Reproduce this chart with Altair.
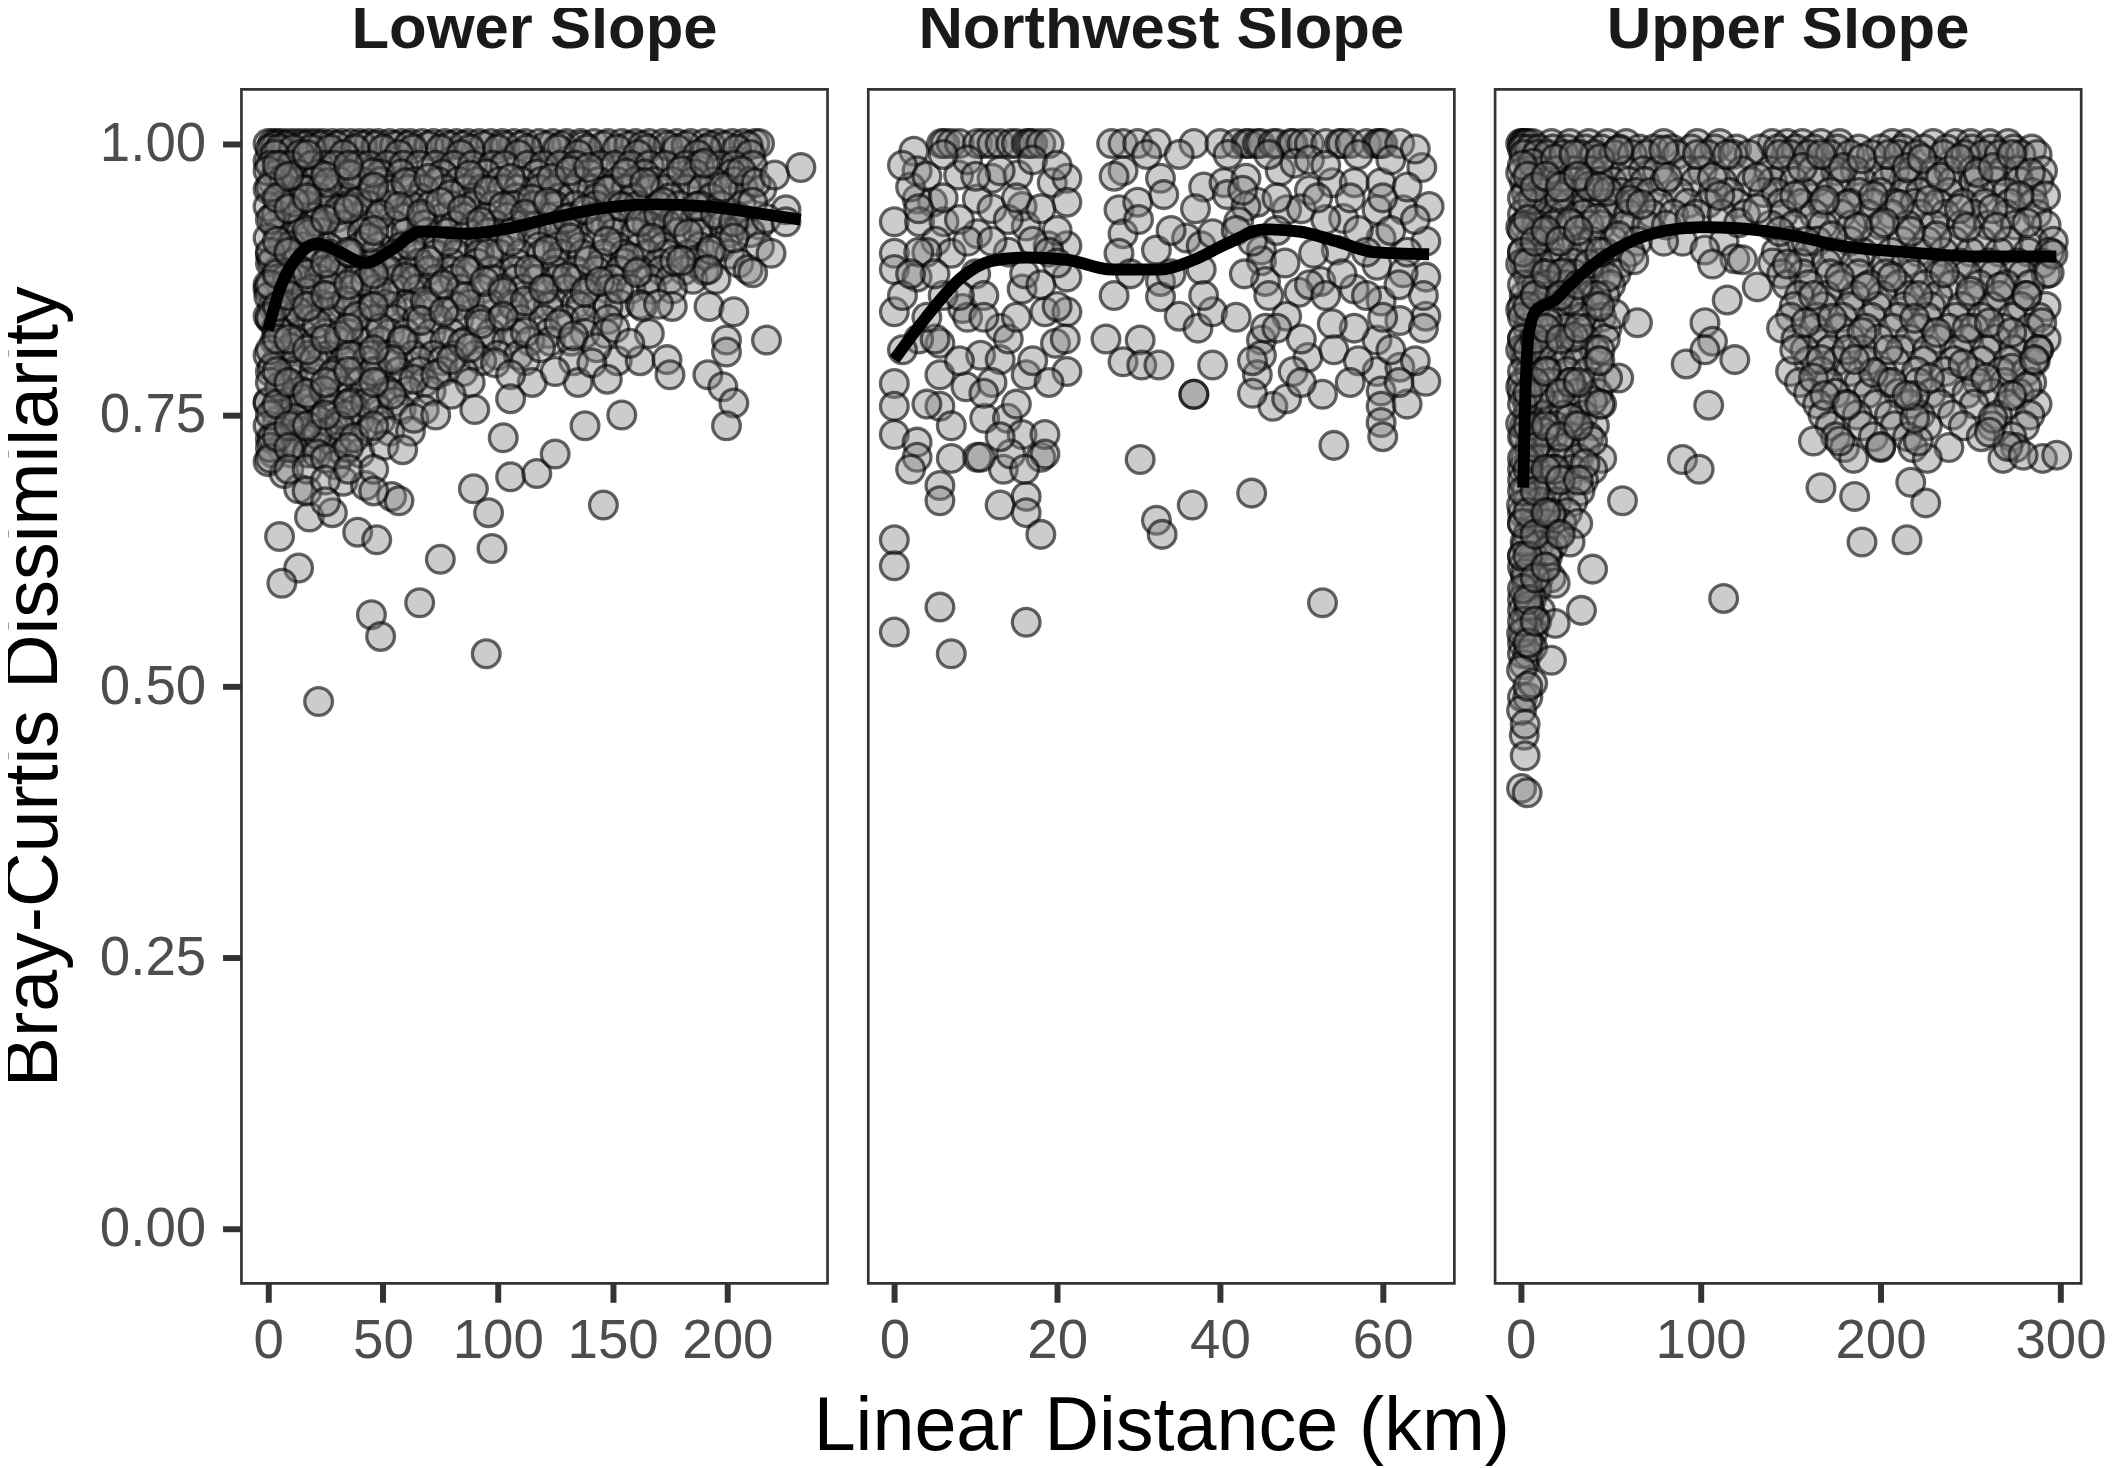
import altair as alt
import pandas as pd

FONT = "Liberation Sans"

# ---------------- Lower Slope ----------------
lower_top_km = [0, 2, 4, 6, 9, 12, 15, 18, 21, 24, 28, 32, 36, 40, 44, 48, 53, 58, 62, 67, 72, 77, 82,
                87, 92, 97, 102, 107, 112, 118, 124, 130, 136, 142, 148, 154, 160, 166, 172, 178, 184,
                190, 196, 202, 207, 212, 214]
lower_row2_km = [0, 8, 18, 30, 42, 55, 68, 80, 92, 105, 118, 130, 142, 155, 168, 180, 192, 204]
# dense rows: (value, distances)
lower_rows = [
    (0.998, [3, 8, 16, 23, 30, 41, 47, 55, 61, 70, 79, 85, 94, 103, 110, 121, 128, 137, 146, 157, 163, 174, 182, 193, 199, 209]),
    (0.995, [1, 5, 11, 19, 27, 38, 50, 63, 75, 88, 100, 113, 126, 139, 152, 165, 178, 191, 204]),
    (0.990, [3, 14, 33, 57, 84, 109, 135, 161, 187, 210]),
    (0.980, [1, 6, 10, 19, 25, 29, 39, 44, 52, 59, 66, 73, 81, 89, 98, 103, 113, 120, 127, 134, 145, 151, 158, 166, 173, 182, 188, 197, 203, 211]),
    (0.972, [4, 13, 22, 35, 49, 58, 76, 95, 117, 140, 164, 186, 202]),
    (0.965, [2, 12, 20, 31, 41, 49, 64, 74, 83, 91, 101, 110, 119, 128, 136, 144, 152, 160, 168, 176, 185, 194, 203, 210]),
    (0.958, [0, 8, 15, 23, 29, 38, 45, 52, 61, 68, 77, 86, 93, 102, 109, 118, 125, 133, 141, 149, 156, 166, 173, 182, 189, 200, 207, 215]),
    (0.950, [5, 22, 34, 47, 66, 89, 108, 127, 143, 159, 175, 193]),
    (0.943, [6, 17, 27, 35, 44, 53, 62, 71, 80, 89, 98, 107, 116, 125, 134, 143, 152, 161, 170, 179, 188, 197, 206]),
    (0.932, [2, 11, 20, 30, 39, 48, 58, 67, 76, 85, 95, 104, 113, 122, 131, 141, 150, 159, 168, 177, 186, 196, 205]),
    (0.925, [3, 13, 24, 33, 42, 55, 68, 81, 90, 99, 108, 117, 126, 135, 150, 165, 174, 188, 198, 207, 214]),
    (0.918, [5, 14, 23, 32, 41, 50, 60, 69, 78, 87, 96, 106, 115, 124, 133, 142, 151, 160, 169, 178, 187, 201, 210]),
    (0.905, [6, 15, 26, 40, 48, 58, 74, 83, 92, 101, 118, 126, 136, 152, 162, 172, 188, 197, 214]),
    (0.898, [1, 9, 18, 27, 36, 46, 55, 64, 73, 82, 92, 101, 110, 119, 128, 137, 146, 155, 165, 174, 183, 192, 201]),
    (0.890, [1, 11, 21, 31, 45, 56, 66, 80, 91, 108, 125, 145, 155, 170, 186, 205]),
    (0.883, [4, 14, 24, 33, 42, 51, 61, 70, 79, 88, 97, 107, 116, 125, 134, 143, 153, 162, 171, 181, 190]),
    (0.875, [4, 13, 22, 37, 47, 56, 64, 73, 81, 98, 108, 117, 126, 135, 150, 166, 175, 185, 195]),
    (0.866, [0, 9, 19, 28, 37, 47, 56, 65, 74, 84, 93, 102, 111, 121, 130, 139, 148, 158, 167, 176]),
    (0.852, [5, 14, 23, 32, 42, 51, 60, 69, 79, 88, 97, 106, 116, 125, 134, 143, 153, 162]),
    (0.850, [2, 9, 18, 27, 36, 45, 54, 62, 70, 82, 95, 107, 122, 136, 148, 163, 176, 192]),
    (0.838, [1, 10, 19, 28, 37, 46, 55, 65, 74, 83, 92, 101, 110, 120, 129, 138, 148]),
    (0.825, [6, 15, 25, 35, 44, 53, 60, 71, 80, 97, 108, 122, 138, 147, 166]),
    (0.818, [3, 12, 21, 31, 40, 49, 58, 67, 77, 86, 95, 104, 114, 123, 132]),
    (0.805, [7, 17, 26, 35, 44, 53, 63, 72, 81, 90, 100, 109]),
    (0.800, [4, 13, 23, 33, 43, 57, 66, 76, 93, 112, 133, 152, 162]),
    (0.790, [1, 11, 20, 29, 38, 48, 57, 66, 76, 85]),
    (0.780, [8, 18, 30, 40, 49, 58, 68, 88, 115, 135]),
    (0.772, [5, 14, 24, 33, 42, 52, 61, 71]),
    (0.762, [0, 9, 18, 27, 36, 46, 55]),
    (0.755, [3, 10, 19, 28, 38, 48, 58, 68, 90]),
    (0.745, [4, 13, 22, 31, 40, 49]),
    (0.735, [5, 14, 27, 44, 53, 62]),
    (0.728, [1, 8, 17, 26, 35]),
    (0.720, [6, 13, 22, 30]),
    (0.715, [2, 10, 17, 33, 40]),
]
lower_pts = [
    (0, 0.975), (7, 0.968), (16.5, 0.957), (26, 0.964), (36, 0.971), (45.7, 0.973), (53.8, 0.953),
    (60, 0.964), (70, 0.968), (79.7, 0.953), (87.8, 0.971), (96, 0.957), (105.6, 0.968), (115, 0.949),
    (123.4, 0.968), (131.5, 0.975), (139.6, 0.978), (147.7, 0.957), (155.8, 0.973), (164, 0.964),
    (172, 0.946), (180, 0.975), (190, 0.982), (198, 0.960), (206, 0.975), (212.5, 0.964), (220.6, 0.971),
    (232, 0.978), (225.5, 0.939),
    (0, 0.942), (3.6, 0.935), (11.7, 0.946), (21.4, 0.928), (31, 0.939), (39, 0.946), (49, 0.935),
    (57, 0.942), (66.7, 0.935), (75, 0.946), (84.6, 0.939), (92.7, 0.928), (102.4, 0.942), (112, 0.935),
    (121.8, 0.946), (130, 0.931), (138, 0.939), (144.5, 0.928), (154, 0.942), (162, 0.928), (170, 0.935),
    (178.5, 0.928), (186.6, 0.942), (194.7, 0.935), (202.8, 0.928), (211, 0.946), (217, 0.931),
    (0, 0.913), (2, 0.892), (10, 0.906), (18, 0.917), (28, 0.884), (36, 0.899), (44, 0.913), (52, 0.884),
    (62, 0.906), (70, 0.892), (78, 0.910), (86, 0.884), (96, 0.899), (105.6, 0.910), (113.7, 0.884),
    (121.8, 0.902), (131.5, 0.913), (139.6, 0.892), (147.7, 0.910), (157.5, 0.895), (167, 0.913),
    (177, 0.892), (183, 0.917), (193, 0.902), (202.8, 0.913), (209, 0.884), (219, 0.899), (225.5, 0.928),
    (0, 0.870), (0.3, 0.859), (8.4, 0.877), (16.5, 0.863), (26, 0.870), (34, 0.855), (42.4, 0.873),
    (50.5, 0.863), (60, 0.877), (68.4, 0.855), (76.5, 0.870), (86, 0.859), (94.3, 0.873), (102.4, 0.863),
    (112, 0.855), (120, 0.866), (130, 0.877), (138, 0.863), (144.5, 0.873), (152.6, 0.866), (160.7, 0.881),
    (170, 0.852), (180, 0.892), (191.5, 0.884), (202.8, 0.845), (211, 0.881),
    (0, 0.841), (3.6, 0.830), (13.3, 0.845), (21.4, 0.834), (31, 0.823), (39, 0.841), (49, 0.830),
    (58.6, 0.819), (66.7, 0.837), (76.5, 0.845), (84.6, 0.816), (92.7, 0.834), (102.4, 0.841), (112, 0.826),
    (118.6, 0.812), (126.7, 0.834), (133, 0.823), (143, 0.812), (151, 0.830), (157.5, 0.816),
    (199.6, 0.819), (217, 0.819), (199.6, 0.808),
    (0, 0.805), (2, 0.794), (10, 0.812), (20, 0.801), (28, 0.787), (36, 0.805), (45.7, 0.790),
    (53.8, 0.801), (63.5, 0.783), (73, 0.787), (79.7, 0.801), (87.8, 0.812), (99, 0.798), (105.6, 0.787),
    (125, 0.790), (141, 0.798), (147.7, 0.783), (173.7, 0.801), (175, 0.787), (191.5, 0.787),
    (0, 0.761), (5, 0.776), (15, 0.765), (24.6, 0.772), (34, 0.750), (42.4, 0.761), (53.8, 0.769),
    (63.5, 0.747), (73, 0.750), (79.7, 0.769), (105.6, 0.765), (154, 0.750), (198, 0.776), (202.8, 0.761),
    (0, 0.740), (2, 0.729), (11.7, 0.747), (21.4, 0.732), (31, 0.740), (37.6, 0.729), (50.5, 0.722),
    (58.6, 0.718), (102.4, 0.729), (138, 0.740), (199.6, 0.740),
    (0, 0.707), (7, 0.696), (21.4, 0.714), (29.5, 0.704), (13.3, 0.682), (32.7, 0.689), (42.4, 0.685),
    (53.8, 0.675), (57, 0.671), (105.6, 0.693), (117, 0.696), (125, 0.714),
    (18, 0.656), (28, 0.660), (39, 0.642), (47.3, 0.635), (5, 0.638), (13.3, 0.609), (6, 0.595),
    (89.4, 0.682), (96, 0.660), (97.5, 0.627), (75, 0.617), (146, 0.667), (66, 0.577), (45, 0.566),
    (49, 0.546), (95, 0.530), (22, 0.486),
    (1, 0.96), (1, 0.93), (1, 0.90), (1, 0.87), (1, 0.84), (1, 0.81), (1, 0.78), (1, 0.75), (1, 0.72), (1, 0.71),
    (4, 0.98), (4, 0.95), (4, 0.91), (4, 0.88), (4, 0.85), (4, 0.82), (4, 0.79), (4, 0.76), (4, 0.73),
    (9, 0.97), (9, 0.94), (9, 0.90), (9, 0.86), (9, 0.82), (9, 0.78), (9, 0.74), (9, 0.72), (9, 0.70),
    (17, 0.99), (17, 0.95), (17, 0.92), (17, 0.88), (17, 0.85), (17, 0.81), (17, 0.77), (17, 0.74), (17, 0.70), (17, 0.68),
    (25, 0.97), (25, 0.93), (25, 0.89), (25, 0.86), (25, 0.82), (25, 0.78), (25, 0.75), (25, 0.71), (25, 0.69), (25, 0.67),
    (35, 0.98), (35, 0.94), (35, 0.90), (35, 0.87), (35, 0.83), (35, 0.79), (35, 0.76), (35, 0.72), (35, 0.70),
    (46, 0.96), (46, 0.92), (46, 0.88), (46, 0.85), (46, 0.81), (46, 0.78), (46, 0.74), (46, 0.70), (46, 0.68),
]
lower_fit_km = [0, 5.1, 13.2, 21.3, 29.4, 42.3, 53.7, 66.7, 86.1, 102.3, 126.6, 150.9, 167.1, 191.3, 215.7, 231.9]
lower_fit_v = [0.828, 0.866, 0.897, 0.908, 0.902, 0.890, 0.902, 0.919, 0.917, 0.921, 0.933, 0.942, 0.944,
               0.942, 0.935, 0.930]

# ---------------- Northwest Slope ----------------
nw_top_km = [5.8, 6.2, 7, 8, 10.2, 11, 12.0, 13, 14.3, 15, 16.2, 16.6, 17, 18.0, 19, 26.7, 28.1, 29.9, 32.2,
             36.8, 40.0, 42, 43.2, 43.6, 44.6, 45, 46.5, 47, 48.7, 49.0, 50.1, 51, 53, 54.7, 55.0, 56, 58,
             59.3, 59.6, 60, 62.1]
nw_pts = [
    (2.4, 0.993), (2.8, 0.975), (4.7, 0.946), (2.8, 0.949), (0, 0.928), (0, 0.899), (0, 0.884), (0, 0.845),
    (0, 0.779), (0, 0.758), (0, 0.732), (0, 0.635), (0, 0.611), (0, 0.550), (2.8, 0.877), (2.8, 0.725),
    (2.8, 0.711), (3.1, 0.928), (5.6, 0.816), (5.6, 0.787), (5.6, 0.758), (6.1, 0.928), (5.6, 0.685),
    (5.6, 0.671), (5.6, 0.573), (7.0, 0.530), (7.9, 0.971), (5.1, 0.910), (7.0, 0.899), (8.4, 0.848),
    (8.8, 0.776), (10.2, 0.949), (10.2, 0.917), (10.6, 0.805), (11.1, 0.747), (10.2, 0.711), (12.0, 0.968),
    (13.0, 0.830), (13.0, 0.801), (13.9, 0.747), (13.4, 0.700), (13.0, 0.667), (15.2, 0.971), (15.7, 0.942),
    (16.2, 0.924), (15.7, 0.866), (16.2, 0.787), (15.7, 0.732), (16.2, 0.675), (16.2, 0.660), (16.2, 0.559),
    (18.0, 0.711), (18.0, 0.640), (18.5, 0.845), (18.9, 0.906), (19.4, 0.964), (19.8, 0.816), (21.2, 0.968),
    (21.2, 0.946), (21.2, 0.906), (21.2, 0.877), (21.2, 0.845), (21.2, 0.790), (18.5, 0.732), (18.5, 0.714),
    (14.3, 0.714), (10.6, 0.711),
    (2, 0.96), (4, 0.90), (8, 0.93), (10, 0.88), (12, 0.94), (14, 0.90), (16, 0.88), (18, 0.94), (20, 0.92),
    (6, 0.86), (9, 0.84), (14, 0.82), (17, 0.80), (3, 0.82), (12, 0.78), (7, 0.74), (2, 0.70), (15, 0.76),
    (1, 0.98), (4, 0.97), (9, 0.985), (13, 0.975), (17, 0.985), (20, 0.98), (1, 0.86), (3, 0.90), (6, 0.95),
    (9, 0.91), (11, 0.86), (14, 0.93), (18, 0.87), (20, 0.85), (5, 0.82), (8, 0.80), (11, 0.77), (13, 0.73),
    (19, 0.78), (4, 0.76), (7, 0.71), (16, 0.70), (21, 0.82), (1, 0.81),
    (3, 0.94), (6, 0.99), (10, 0.97), (12, 0.91), (15, 0.95), (17, 0.91), (19, 0.90), (5, 0.88), (8, 0.86),
    (11, 0.84), (15, 0.84), (20, 0.89), (2, 0.88), (4, 0.84),
    (28.1, 0.975), (27.6, 0.939), (28.1, 0.917), (27.6, 0.899), (29.9, 0.946), (32.7, 0.968), (33.1, 0.953),
    (32.2, 0.902), (32.7, 0.873), (32.7, 0.859), (35.0, 0.841), (35.9, 0.913), (37.7, 0.906), (39.1, 0.917),
    (37.7, 0.884), (37.3, 0.830), (39.1, 0.845), (30.2, 0.819), (28.1, 0.799), (30.4, 0.796), (32.5, 0.796),
    (39.1, 0.796), (36.8, 0.769), (36.8, 0.769), (30.2, 0.709), (32.2, 0.653), (32.9, 0.640), (36.6, 0.667),
    (43.9, 0.678), (52.6, 0.577),
    (27, 0.97), (31, 0.99), (35, 0.99), (38, 0.96), (30, 0.93), (34, 0.92), (37, 0.94), (27, 0.86),
    (29, 0.88), (34, 0.88), (38, 0.86), (26, 0.82),
    (40.5, 0.964), (40.9, 0.953), (43.2, 0.968), (44.6, 0.946), (47.4, 0.975), (49.2, 0.982), (48.2, 0.939),
    (51.0, 0.957), (53.8, 0.964), (55.2, 0.931), (56.5, 0.964), (59.8, 0.964), (59.3, 0.939), (62.5, 0.939),
    (64.8, 0.978), (65.7, 0.942), (65.3, 0.910), (65.3, 0.877), (65.3, 0.841), (65.3, 0.781), (59.8, 0.913),
    (59.3, 0.888), (62.5, 0.881), (62.1, 0.837), (59.3, 0.819), (59.8, 0.855), (59.3, 0.790), (59.8, 0.772),
    (59.8, 0.758), (59.8, 0.743), (62.1, 0.794), (56.5, 0.866), (56.5, 0.830), (53.8, 0.834), (52.4, 0.873),
    (54.3, 0.902), (51.5, 0.899), (49.7, 0.863), (48.2, 0.841), (45.1, 0.902), (45.1, 0.892),
    (45.6, 0.873), (45.1, 0.819), (45.1, 0.805), (44.6, 0.787), (45.6, 0.830), (46.5, 0.758), (48.2, 0.765),
    (50.8, 0.803), (52.6, 0.769), (54.0, 0.722), (43.2, 0.942), (42.3, 0.928), (42.8, 0.957),
    (41, 0.99), (46, 0.99), (51, 0.985), (53, 0.98), (57, 0.99), (61, 0.985), (64, 0.995), (42, 0.92),
    (47, 0.92), (50, 0.94), (53, 0.93), (57, 0.92), (61, 0.92), (64, 0.93), (43, 0.88), (48, 0.89),
    (51, 0.87), (55, 0.88), (58, 0.86), (62, 0.87), (65, 0.86), (42, 0.84), (47, 0.83), (50, 0.82),
    (54, 0.81), (57, 0.80), (61, 0.81), (64, 0.80), (44, 0.77), (49, 0.79), (63, 0.76), (60, 0.73),
    (47, 0.95), (52, 0.95), (56, 0.95), (60, 0.95), (63, 0.96), (44, 0.91), (58, 0.90), (63, 0.90),
    (46, 0.86), (53, 0.86), (60, 0.84), (65, 0.83), (50, 0.78), (56, 0.78), (62, 0.78), (44, 0.80),
]
nw_fit_km = [0, 3.8, 8.3, 12.0, 16.2, 21.2, 26.7, 32.7, 36.8, 40.9, 45.5, 49.7, 54.3, 58.9, 65.7]
nw_fit_v = [0.801, 0.839, 0.877, 0.892, 0.895, 0.893, 0.884, 0.884, 0.893, 0.908, 0.921, 0.919, 0.910,
            0.900, 0.898]

# ---------------- Upper Slope ----------------
upper_top_km = [0, 1, 2, 3, 4, 6.7, 17.1, 27.5, 37.9, 48.3, 58.7, 79.5, 98.2, 110.7, 139.8, 148.1, 156.5,
                166.9, 177.3, 206.4, 214.7, 229.2, 241.7, 250, 260.5, 270.9]
upper_rows = [
    (0.995, [1, 5, 10, 18, 26, 36, 45, 55, 66, 74, 84, 95, 108, 120, 133, 143, 153, 163, 176, 188, 200, 212, 224, 237, 251, 262, 274, 284]),
    (0.990, [2, 9, 15, 24, 33, 41, 52, 62, 70, 87, 104, 118, 127, 150, 160, 172, 183, 195, 210, 220, 235, 247, 257, 266, 278, 287]),
    (0.975, [5, 12, 20, 30, 39, 47, 58, 68, 76, 92, 101, 123, 138, 147, 162, 175, 186, 199, 208, 218, 230, 238, 251, 268, 276, 290]),
    (0.965, [2, 7, 15, 22, 29, 37, 44, 51, 60, 69, 80, 97, 112, 128, 140, 152, 165, 178, 190, 203, 215, 227, 240, 252, 264, 277, 288]),
    (0.955, [3, 11, 25, 34, 43, 56, 64, 72, 88, 107, 116, 135, 142, 158, 172, 188, 200, 213, 222, 238, 256, 270, 284]),
    (0.945, [4, 12, 19, 27, 37, 46, 54, 63, 77, 93, 104, 120, 145, 156, 168, 183, 196, 208, 219, 232, 246, 258, 272, 285]),
    (0.935, [1, 8, 16, 24, 35, 49, 60, 73, 85, 98, 112, 125, 146, 163, 178, 193, 206, 222, 236, 252, 270, 287]),
    (0.925, [2, 9, 18, 29, 38, 45, 58, 70, 81, 139, 152, 168, 184, 200, 215, 230, 245, 260, 275, 292]),
    (0.910, [5, 13, 21, 31, 40, 52, 65, 90, 113, 150, 165, 183, 197, 212, 226, 241, 256, 271, 285, 296]),
    (0.900, [1, 7, 15, 24, 34, 47, 61, 142, 160, 175, 190, 206, 221, 235, 250, 266, 282, 294]),
    (0.890, [2, 10, 19, 29, 44, 56, 140, 155, 170, 186, 203, 214, 229, 244, 260, 276, 290]),
    (0.880, [4, 12, 22, 30, 41, 53, 145, 157, 172, 188, 203, 218, 233, 248, 263, 279, 292]),
    (0.870, [6, 15, 25, 35, 50, 148, 160, 178, 194, 210, 225, 240, 255, 270, 283]),
    (0.860, [2, 8, 17, 27, 38, 47, 155, 170, 186, 201, 216, 232, 250, 266, 281]),
    (0.850, [1, 9, 20, 32, 42, 152, 168, 183, 198, 213, 228, 245, 262, 278, 292]),
    (0.840, [5, 14, 22, 34, 45, 150, 165, 179, 195, 210, 226, 242, 256, 273, 288]),
    (0.830, [4, 13, 25, 37, 48, 145, 163, 177, 192, 207, 222, 238, 252, 268, 283]),
    (0.820, [1, 7, 16, 27, 36, 47, 153, 168, 183, 199, 216, 232, 248, 264, 279, 292]),
    (0.810, [2, 10, 20, 30, 41, 158, 172, 190, 211, 226, 243, 259, 274, 288]),
    (0.800, [3, 12, 22, 32, 43, 160, 176, 193, 208, 224, 241, 256, 271, 286]),
    (0.790, [5, 15, 26, 37, 150, 167, 183, 201, 220, 236, 251, 267, 281]),
    (0.780, [1, 8, 17, 28, 39, 155, 171, 188, 204, 221, 238, 254, 269, 284]),
    (0.770, [1, 9, 19, 31, 43, 160, 175, 193, 210, 228, 248, 262, 277]),
    (0.760, [4, 13, 23, 34, 45, 165, 181, 198, 216, 233, 252, 271, 287]),
    (0.750, [4, 13, 24, 35, 168, 187, 205, 222, 240, 265, 283]),
    (0.740, [2, 9, 19, 30, 41, 172, 190, 208, 226, 246, 262, 280]),
    (0.730, [2, 8, 18, 28, 38, 175, 196, 215, 256, 273]),
    (0.720, [5, 14, 25, 36, 180, 200, 218, 238, 275]),
    (0.710, [5, 12, 22, 32, 45, 185, 226, 268, 290]),
    (0.700, [1, 8, 18, 29, 40]),
    (0.690, [1, 9, 16, 26, 35]),
    (0.680, [3, 12, 22, 33]),
    (0.670, [4, 11, 20, 29]),
    (0.660, [1, 8, 17, 26]),
    (0.650, [1, 7, 14, 23]),
    (0.640, [4, 11, 20]),
    (0.630, [3, 10, 18]),
    (0.620, [1, 7, 15]),
    (0.610, [1, 6, 13]),
    (0.600, [3, 10, 17]),
    (0.590, [3, 9]),
    (0.580, [1, 6]),
    (0.570, [1, 5, 11]),
    (0.560, [3, 9]),
    (0.550, [2, 7]),
    (0.540, [1, 5]),
    (0.530, [1, 4]),
    (0.520, [2]),
    (0.490, [1, 4]),
    (0.455, [2]),
]
upper_pts = [
    (0, 0.973), (6.7, 0.982), (19.2, 0.986), (29.6, 0.990), (44.1, 0.986), (54.5, 0.994), (6.7, 0.948),
    (21.3, 0.952), (37.9, 0.961), (48.3, 0.956), (60.8, 0.948), (0, 0.923), (10.9, 0.919), (27.5, 0.927),
    (42.1, 0.931), (54.5, 0.915), (67.0, 0.944),
    (79.5, 0.994), (81.6, 0.969), (98.2, 0.990), (106.6, 0.969), (114.8, 0.990), (110.7, 0.952),
    (121.1, 0.927), (94.0, 0.931), (79.5, 0.910), (102.4, 0.902), (119.0, 0.894), (131.5, 0.969),
    (131.5, 0.940),
    (144, 0.990), (156.5, 0.978), (166.9, 0.990), (179.3, 0.978), (189.7, 0.986), (204.3, 0.990),
    (214.7, 0.978), (223, 0.986), (233.4, 0.969), (243.8, 0.986), (254.2, 0.973), (262.5, 0.978),
    (272.9, 0.990), (283.3, 0.973), (291.7, 0.952), (277.1, 0.952), (262.5, 0.940), (243.8, 0.940),
    (227.2, 0.948), (210.5, 0.944), (196, 0.952), (181.4, 0.944), (169, 0.948), (152.3, 0.952),
    (144, 0.919), (158.5, 0.910), (173.1, 0.915), (187.6, 0.923), (202.2, 0.927), (216.8, 0.919),
    (231.3, 0.915), (248, 0.923), (264.6, 0.923), (281.3, 0.927), (295.8, 0.898),
    (0, 0.889), (8.8, 0.868), (23.3, 0.881), (37.9, 0.889), (48.3, 0.877), (62.9, 0.893), (0, 0.847),
    (15, 0.835), (27.5, 0.856), (42.1, 0.860), (52.4, 0.843), (64.9, 0.835), (0, 0.810), (12.9, 0.814),
    (29.6, 0.822), (44.1, 0.810), (54.5, 0.784),
    (106.6, 0.889), (123.2, 0.893), (131.5, 0.868), (114.8, 0.856), (102.4, 0.835), (106.6, 0.818),
    (119, 0.801), (92, 0.797), (102.4, 0.810),
    (148.1, 0.889), (162.7, 0.860), (177.3, 0.877), (191.8, 0.868), (206.4, 0.877), (220.9, 0.860),
    (235.5, 0.881), (250, 0.864), (266.7, 0.868), (281.3, 0.860), (289.6, 0.835), (293.7, 0.881),
    (158.5, 0.835), (173.1, 0.839), (189.7, 0.826), (204.3, 0.810), (218.9, 0.839), (231.3, 0.826),
    (248, 0.830), (260.5, 0.835), (272.9, 0.826), (287.5, 0.810), (152.3, 0.810), (166.9, 0.801),
    (181.4, 0.810),
    (0, 0.776), (10.9, 0.768), (27.5, 0.780), (40, 0.763), (48.3, 0.784), (0, 0.742), (12.9, 0.734),
    (27.5, 0.747), (40, 0.726), (2.5, 0.709), (19.2, 0.700), (35.8, 0.705), (56.6, 0.671),
    (104.5, 0.759), (89.9, 0.709), (99.2, 0.700),
    (162.7, 0.784), (169, 0.768), (181.4, 0.759), (196, 0.789), (206.4, 0.780), (218.9, 0.768),
    (227.2, 0.784), (245.9, 0.797), (258.4, 0.784), (272.9, 0.793), (281.3, 0.776), (272.9, 0.768),
    (285.4, 0.801), (262.5, 0.747), (270.8, 0.721), (279.2, 0.713), (297.9, 0.713), (260.5, 0.734),
    (221, 0.726), (218.9, 0.747), (200.1, 0.721), (162.7, 0.726), (177.3, 0.726), (214.7, 0.768),
    (185.6, 0.801),
    (166.9, 0.683), (185.6, 0.675), (216.8, 0.688), (225.1, 0.669), (189.7, 0.633), (214.7, 0.635),
    (112.8, 0.581),
    (0.5, 0.667), (17.1, 0.658), (31.7, 0.650), (2.5, 0.633), (15, 0.625), (27.5, 0.633), (2.5, 0.604),
    (19.2, 0.595), (40, 0.608), (33.8, 0.570), (4.6, 0.574), (19.2, 0.558), (0.5, 0.549), (6.7, 0.536),
    (17.1, 0.524), (0.5, 0.515), (6.7, 0.503), (0.5, 0.478), (2.5, 0.465), (2.5, 0.436), (0.5, 0.406),
    (3.6, 0.402),
    (1, 0.98), (1, 0.95), (1, 0.92), (1, 0.90), (1, 0.87), (1, 0.84), (1, 0.82), (1, 0.79), (1, 0.76),
    (1, 0.73), (1, 0.71), (1, 0.68), (1, 0.65), (1, 0.62), (1, 0.59), (1, 0.56),
    (4, 0.97), (4, 0.93), (4, 0.89), (4, 0.85), (4, 0.81), (4, 0.77), (4, 0.74), (4, 0.70), (4, 0.66),
    (4, 0.62), (4, 0.58), (4, 0.54), (4, 0.50),
    (8, 0.96), (8, 0.91), (8, 0.86), (8, 0.82), (8, 0.78), (8, 0.72), (8, 0.68), (8, 0.64), (8, 0.60), (8, 0.56),
    (14, 0.97), (14, 0.92), (14, 0.88), (14, 0.83), (14, 0.79), (14, 0.74), (14, 0.70), (14, 0.66), (14, 0.61),
    (22, 0.96), (22, 0.91), (22, 0.86), (22, 0.82), (22, 0.77), (22, 0.73), (22, 0.69), (22, 0.64),
    (32, 0.97), (32, 0.92), (32, 0.87), (32, 0.83), (32, 0.78), (32, 0.74), (32, 0.69),
    (44, 0.96), (44, 0.90), (44, 0.85), (44, 0.80), (44, 0.76),
]
upper_fit_km = [1.4, 2.5, 4.6, 8.8, 19.2, 27.5, 48.2, 73.2, 100.2, 121, 152.2, 177.2, 214.6, 256.2, 297.7]
upper_fit_v = [0.683, 0.763, 0.826, 0.847, 0.856, 0.870, 0.898, 0.917, 0.923, 0.922, 0.915, 0.906, 0.900,
               0.896, 0.896]

y_ticks = [0.0, 0.25, 0.5, 0.75, 1.0]


def points_frame(top_km, pts, row2_km=None, rows=None):
    out = [(k, 1.0) for k in top_km]
    if row2_km:
        out += [(k, 0.984) for k in row2_km]
    if rows:
        for val, kms in rows:
            out += [(k, val) for k in kms]
    out += list(pts)
    return pd.DataFrame(out, columns=["km", "v"])


def panel(title, pdf, fit_km, fit_v, domain, ticks, first, xtitle):
    xaxis = alt.Axis(values=ticks, format="d", labelFontSize=55, labelColor="#4D4D4D", labelFont=FONT,
                     tickColor="#333333", tickWidth=6, tickSize=19, labelPadding=13, domain=False,
                     grid=False, title=xtitle, titleFontSize=76, titleFontWeight="normal",
                     titleColor="#000000", titleFont=FONT, titlePadding=21)
    xs = alt.Scale(domain=domain, nice=False, zero=False)
    ys = alt.Scale(domain=[-0.05, 1.05], nice=False, zero=False)
    if first:
        yenc = alt.Y("v:Q", scale=ys, axis=alt.Axis(values=y_ticks, format=".2f", labelFontSize=55,
                                                      labelColor="#4D4D4D", labelFont=FONT,
                                                      tickColor="#333333", tickWidth=6, tickSize=19,
                                                      labelPadding=17, domain=False, grid=False,
                                                      title="Bray-Curtis Dissimilarity", titleFontSize=76,
                                                      titleFontWeight="normal", titleColor="#000000",
                                                      titleFont=FONT, titlePadding=27))
    else:
        yenc = alt.Y("v:Q", scale=ys, axis=None)
    pts = alt.Chart(pdf).mark_circle(size=780, fill="#7f7f7f", fillOpacity=0.4, stroke="#000000",
                                     strokeOpacity=0.6, strokeWidth=3.3, clip=True).encode(
        x=alt.X("km:Q", scale=xs, axis=xaxis), y=yenc)
    fit = alt.Chart(pd.DataFrame({"km": fit_km, "v": fit_v})).mark_line(
        color="#000000", strokeWidth=12, interpolate="monotone", clip=True).encode(
        x=alt.X("km:Q", scale=xs), y=alt.Y("v:Q", scale=ys))
    return alt.layer(pts, fit).properties(
        width=590, height=1202,
        title=alt.TitleParams(title, fontSize=62, fontWeight="bold", color="#1A1A1A", font=FONT,
                              anchor="middle", baseline="alphabetic", offset=0, dy=20))


p1 = panel("Lower Slope", points_frame(lower_top_km, lower_pts, lower_row2_km, lower_rows),
           lower_fit_km, lower_fit_v, [-11.6, 243.6], [0, 50, 100, 150, 200], True, "")
p2 = panel("Northwest Slope", points_frame(nw_top_km, nw_pts), nw_fit_km, nw_fit_v,
           [-3.2, 68.8], [0, 20, 40, 60], False, "Linear Distance (km)")
p3 = panel("Upper Slope", points_frame(upper_top_km, upper_pts, None, upper_rows), upper_fit_km, upper_fit_v,
           [-14.2, 311.5], [0, 100, 200, 300], False, "")

chart = alt.hconcat(p1, p2, p3, spacing=41, bounds="flush").properties(
    padding={"left": -14, "top": -17, "right": 2, "bottom": 0}
).configure(
    font=FONT, background="#ffffff",
    view=alt.ViewConfig(stroke="#333333", strokeWidth=2.7),
)

chart.save("out.html", embed_options={"renderer": "svg", "actions": False})
